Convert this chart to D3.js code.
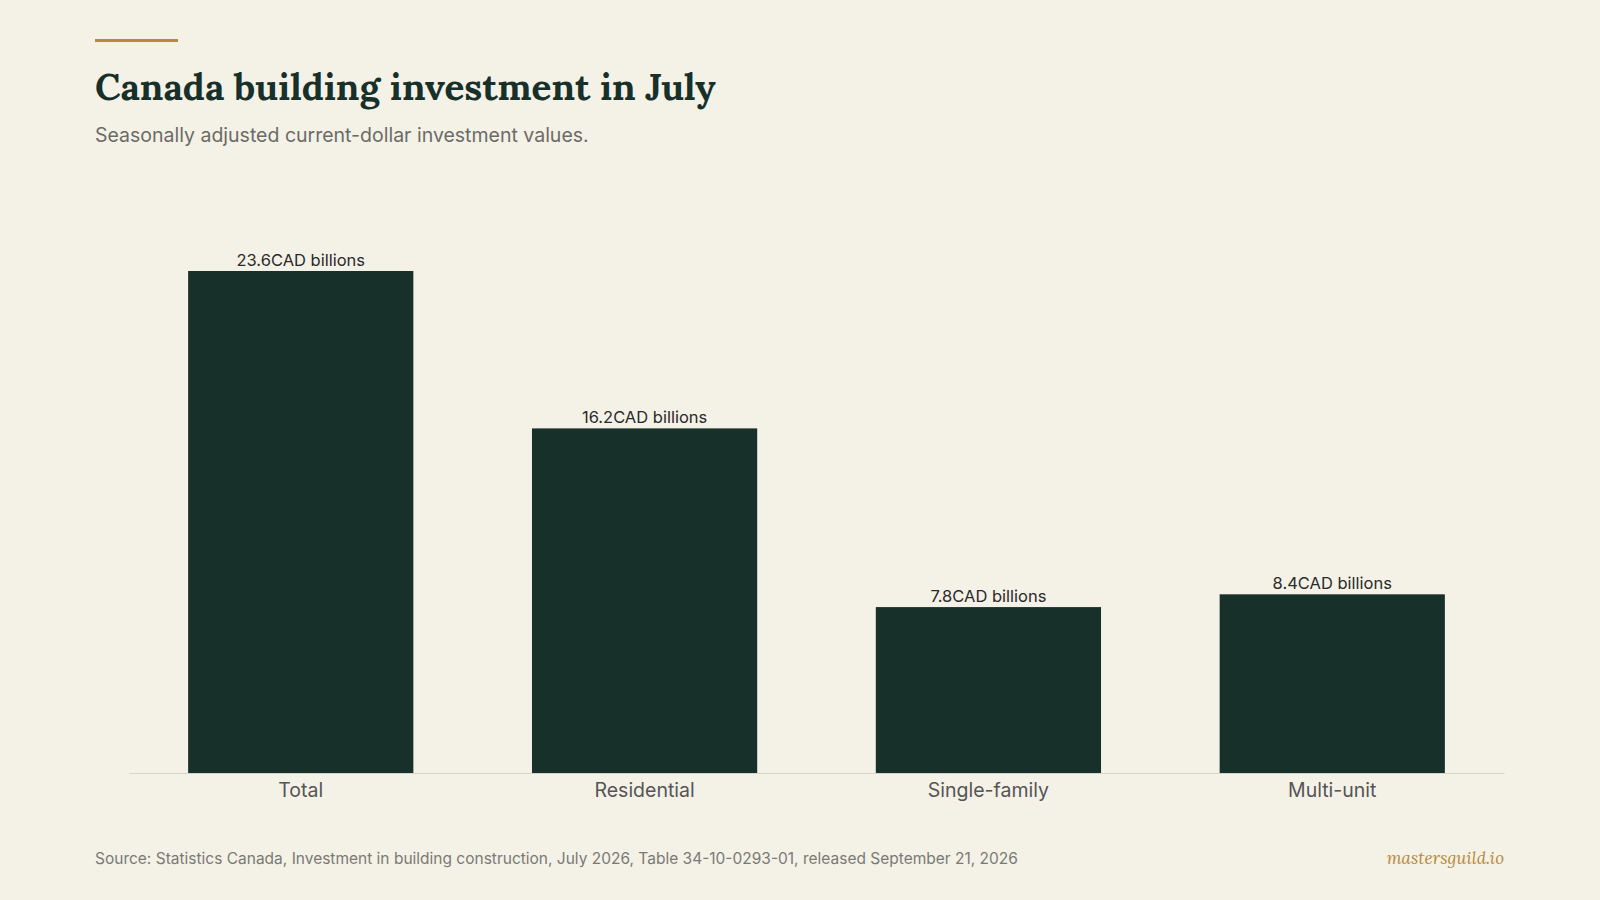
<!DOCTYPE html>
<html><head><meta charset="utf-8">
<script src="https://cdn.jsdelivr.net/npm/d3@7"></script>
<style>body{margin:0;background:#f4f1e7}svg{display:block}</style>
</head><body><svg id="c" width="1600" height="900"></svg>
<script>
const categories = ["Total","Residential","Single-family","Multi-unit"];
const values = [23.6,16.2,7.8,8.4];
const unit = "CAD billions";

const svg = d3.select("#c");
svg.append("rect").attr("width",1600).attr("height",900).attr("fill","#f4f1e7");
svg.append("rect").attr("x",95).attr("y",39).attr("width",83).attr("height",3).attr("fill","#b8893a");
svg.append("text").attr("x",95).attr("y",100).attr("font-family","Lora, 'DejaVu Serif', serif").attr("font-weight","bold").attr("font-size",37).attr("fill","#173029").text("Canada building investment in July");
svg.append("text").attr("x",95).attr("y",142).attr("font-family","Inter, sans-serif").attr("font-size",19.5).attr("fill","#6b6b66").text("Seasonally adjusted current-dollar investment values.");

const x = d3.scaleBand().domain(categories).range([129,1504]).paddingInner(0.345).paddingOuter(0.172);
const y = d3.scaleLinear().domain([0,23.6]).range([773,271]);

svg.selectAll(".bar").data(values).join("rect")
 .attr("x",(d,i)=>x(categories[i])).attr("width",x.bandwidth())
 .attr("y",d=>y(d)).attr("height",d=>y(0)-y(d)).attr("fill","#173029");
svg.selectAll(".vl").data(values).join("text")
 .attr("x",(d,i)=>x(categories[i])+x.bandwidth()/2).attr("y",d=>y(d)-5)
 .attr("text-anchor","middle").attr("font-family","Inter, sans-serif").attr("font-size",16.5).attr("fill","#2a2a2a")
 .text(d=>d.toFixed(1)+unit);

const ax = svg.append("g").attr("transform","translate(0,773)").call(d3.axisBottom(x).tickSize(0).tickPadding(10));
ax.select(".domain").attr("stroke","#d6d3c8");
ax.selectAll("text").attr("font-family","Inter, sans-serif").attr("font-size",19.5).attr("fill","#555");

svg.append("text").attr("x",95).attr("y",864).attr("font-family","Inter, sans-serif").attr("font-size",15.5).attr("fill","#7a7a74").text("Source: Statistics Canada, Investment in building construction, July 2026, Table 34-10-0293-01, released September 21, 2026");
svg.append("text").attr("x",1504).attr("y",864).attr("text-anchor","end").attr("font-family","Lora, 'DejaVu Serif', serif").attr("font-style","italic").attr("font-size",17).attr("fill","#b8893a").text("mastersguild.io");
</script></body></html>
